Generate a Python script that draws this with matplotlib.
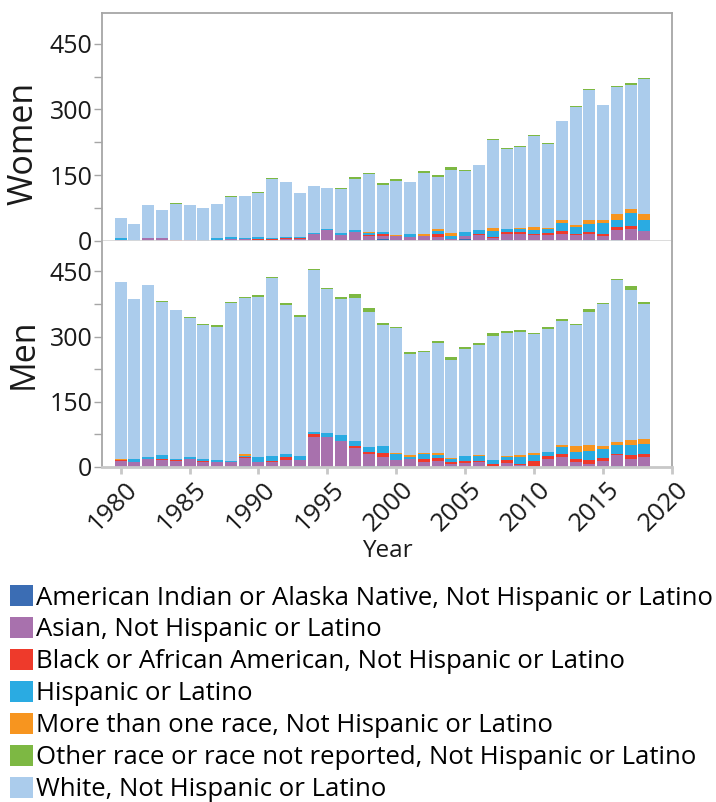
import matplotlib
matplotlib.use("Agg")
import matplotlib.pyplot as plt
import matplotlib.transforms as mtransforms
from matplotlib.patches import Patch

plt.rcParams['font.family'] = ['Open Sans', 'DejaVu Sans']

years = list(range(1980, 2019))

categories = [
    "American Indian or Alaska Native, Not Hispanic or Latino",
    "Asian, Not Hispanic or Latino",
    "Black or African American, Not Hispanic or Latino",
    "Hispanic or Latino",
    "More than one race, Not Hispanic or Latino",
    "Other race or race not reported, Not Hispanic or Latino",
    "White, Not Hispanic or Latino",
]
colors = ["#3B6DB4", "#A871AD", "#EE3A2B", "#2AABE2", "#F7951F", "#7DB843", "#ABCCEC"]

# Women
w_amind = [0, 0, 0, 0, 0, 0, 1.5, 0, 1.5, 0, 1.5, 2, 0, 0, 0, 0, 0, 1.5, 1.5, 3.5,
           1.5, 0, 0, 2, 0, 4.5, 0, 0, 2, 0, 0, 0, 0, 0, 2, 2, 2, 0, 0]
w_asian = [3, 0, 6, 6, 0, 1.5, 0, 3, 2, 4.5, 0, 0, 4.5, 4.5, 17, 26, 13, 18, 11, 8,
           9, 8, 11, 6, 4, 8, 13, 7, 13, 15, 13, 13, 15, 13, 15, 9, 22, 26.5, 22]
w_black = [0, 0, 0, 0, 2, 0, 0, 0, 0, 0, 2, 3, 2, 2, 0, 0, 0, 0, 2, 4.5,
           0, 0, 0, 7, 0, 0, 2, 1.5, 4.5, 4.5, 2, 4.5, 7, 2, 4.5, 6, 7, 7, 0]
w_hisp = [3, 0, 0, 0, 0, 0, 0, 3, 4.5, 2, 4.5, 2, 2, 2, 2, 2, 4.5, 4.5, 4.5, 4.5,
          2, 7, 0, 7, 7.5, 9, 11, 13.5, 9, 9, 11, 11, 18, 18, 18, 23, 18, 29.5, 27]
w_multi = [0, 0, 0, 0, 0, 0, 0, 0, 0, 0, 0, 0, 0, 0, 0, 0, 0, 2, 2, 0,
           2, 0, 6, 4.5, 6, 0, 0, 7, 0, 2, 7, 2, 7, 4.5, 9, 9, 13.5, 9, 13.5]
w_other = [0, 0, 0, 0, 2.3, 0, 0, 0, 2.3, 0, 2.3, 2.3, 0, 0, 0, 0, 2, 4.5, 2, 4,
           4.5, 0, 4.5, 4.5, 7, 2, 0, 2.3, 2, 2, 2, 2, 0, 2, 2, 0, 2, 4.5, 2]
w_white = [46.5, 39, 76, 65, 82.5, 80.5, 73.5, 78.5, 92.5, 96.5, 101.5, 134.5, 126.5, 101.5,
           107, 93, 101.5, 115.5, 132, 107.5, 122.5, 120, 138.5, 120, 144.5, 138.5, 147.5,
           201.5, 181.5, 184.5, 207, 191.5, 227, 268.5, 296.5, 261.5, 289.5, 284.5, 307.5]

# Men
m_amind = [0, 0, 0, 2, 0, 0, 0, 0, 0, 2, 0, 0, 0, 2, 0, 0, 0, 0, 2, 2,
           0, 0, 0, 0, 2, 0, 0, 0, 0, 0, 0, 0, 0, 2, 0, 0, 2, 0, 0]
m_asian = [13, 11.5, 17.5, 14, 14, 17.5, 11.5, 12, 11.5, 18, 12, 11, 15, 13, 70, 70, 59, 43, 29, 22,
           15, 17.5, 11, 13, 6, 8.5, 11, 2, 8.5, 4, 2, 17.5, 22, 8.5, 7, 13, 24.5, 17.5, 22]
m_black = [3, 0, 2, 1.5, 2, 2, 1.5, 0, 0, 2, 0, 2, 7, 2, 7, 0, 0, 4.5, 4.5, 9,
           2, 2, 7, 7, 4.5, 4.5, 2, 6, 7, 2, 11, 7, 9, 7, 8.5, 7, 4.5, 9, 9]
m_hisp = [0, 6, 4.5, 9, 1.5, 4.5, 4.5, 3, 2, 4, 10, 11.5, 9, 9, 4.5, 9, 14, 11.5, 11.5, 16,
          14, 4.5, 11.5, 7, 7, 11.5, 11.5, 9, 7, 16, 14, 9, 14, 16, 20.5, 20.5, 20.5, 25, 23]
m_multi = [3, 0, 0, 0, 0, 0, 0, 0, 0, 3, 0, 0, 0, 0, 0, 0, 0, 0, 0, 0,
           2, 4.5, 2, 4.5, 2, 0, 2, 0, 2, 4.5, 4.5, 2, 4.5, 14, 14, 7, 7, 11.5, 11.5]
m_other = [0, 0, 0, 2.3, 0, 2.3, 2, 4.6, 2.3, 2.3, 4.6, 2.3, 4.6, 4.6, 2.3, 2.3, 4.6, 9, 9, 4.6,
           2.3, 4.6, 2.3, 4.6, 7, 4.6, 4.6, 7, 4.6, 4.6, 2.3, 4.6, 4.6, 2.3, 7, 2.3, 2.3, 9, 4.6]
m_white = [407, 369.5, 395, 353, 343.5, 318.5, 309.5, 307.5, 364, 359.5, 369.5, 410.5, 342, 319.5,
           372, 330.5, 313.5, 330, 310, 277.5, 286.5, 231.5, 233, 254, 224.5, 247, 254,
           284, 284, 284, 274, 282, 287, 279, 307, 327.5, 372, 345, 310]

# stacking order: bottom -> top (white sits under "other")
stack_order = [0, 1, 2, 3, 4, 6, 5]

fig = plt.figure(figsize=(7.16, 8.02), dpi=100)
ax_w = fig.add_axes([102 / 716, 1 - 241 / 802, 570 / 716, 228 / 802])
ax_m = fig.add_axes([102 / 716, 1 - 467 / 802, 570 / 716, 226 / 802], sharex=ax_w)

panels = [
    (ax_w, "Women", [w_amind, w_asian, w_black, w_hisp, w_multi, w_other, w_white]),
    (ax_m, "Men", [m_amind, m_asian, m_black, m_hisp, m_multi, m_other, m_white]),
]

for ax, label, series in panels:
    bottom = [0] * len(years)
    for i in stack_order:
        ax.bar(years, series[i], bottom=bottom, width=0.87, color=colors[i], linewidth=0)
        bottom = [b + v for b, v in zip(bottom, series[i])]
    ax.set_ylim(0, 520)
    ax.set_yticks([0, 150, 300, 450])
    ax.set_yticks([75, 225, 375], minor=True)
    ax.tick_params(axis='y', which='both', direction='out', length=6, width=1,
                   color='#A6A6A6', labelsize=18, labelcolor='#1A1A1A', pad=1)
    ax.set_ylabel(label, fontsize=24.5, color='#1A1A1A')
    for s in ['left', 'right', 'top']:
        ax.spines[s].set_color('#A6A6A6')
        ax.spines[s].set_linewidth(1.3)

ax_w.yaxis.set_label_coords(-0.108, 0.43)
ax_m.yaxis.set_label_coords(-0.108, 0.5)

ax_w.set_xlim(1978.65, 2020)
ax_w.spines['bottom'].set_color('#D9D9D9')
ax_w.spines['bottom'].set_linewidth(1.3)
ax_w.tick_params(axis='x', which='both', bottom=False, labelbottom=False)

ax_m.spines['top'].set_visible(False)
ax_m.spines['bottom'].set_color('#C8C8C8')
ax_m.spines['bottom'].set_linewidth(2)
ax_m.set_xticks(range(1980, 2021, 5))
ax_m.tick_params(axis='x', direction='out', length=5, width=2, color='#C8C8C8',
                 labelsize=18.5, labelcolor='#1A1A1A', pad=2)
shift = mtransforms.ScaledTranslation(3 / 72, 0, fig.dpi_scale_trans)
for t in ax_m.get_xticklabels():
    t.set_rotation(45)
    t.set_ha('right')
    t.set_va('top')
    t.set_rotation_mode('anchor')
    t.set_transform(t.get_transform() + shift)
ax_m.set_xlabel("Year", fontsize=17.5, color='#1A1A1A', labelpad=2)

handles = [Patch(facecolor=c, edgecolor='none') for c in colors]
fig.legend(handles, categories, loc='upper left', bbox_to_anchor=(10 / 716, 1 - 585 / 802),
           frameon=False, fontsize=18.5, handlelength=0.9, handleheight=0.9,
           handletextpad=0.12, labelspacing=0.25, borderpad=0, borderaxespad=0)

fig.savefig("out.png", dpi=100)
